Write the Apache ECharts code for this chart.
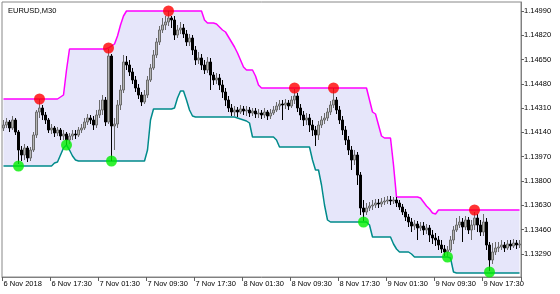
<!DOCTYPE html>
<html><head><meta charset="utf-8">
<script src="https://cdn.jsdelivr.net/npm/echarts@6/dist/echarts.min.js"></script>
<style>html,body{margin:0;padding:0;background:#fff}#c{width:560px;height:294px}</style>
</head><body><div id="c"></div>
<script>
const chartTitle = 'EURUSD,M30';
const startTime = '2018-11-06T09:30';
const tickLabels = ['6 Nov 2018','6 Nov 17:30','7 Nov 01:30','7 Nov 09:30','7 Nov 17:30','8 Nov 01:30','8 Nov 09:30','8 Nov 17:30','9 Nov 01:30','9 Nov 09:30','9 Nov 17:30'];
const priceTicks = ['1.13290','1.13460','1.13630','1.13800','1.13970','1.14140','1.14310','1.14480','1.14650','1.14820','1.14990'];
// [open, close, low, high]
const ohlc = [
[1.14171,1.14192,1.14150,1.14227],[1.14192,1.14213,1.14171,1.14241],[1.14213,1.14171,1.14143,1.14227],[1.14171,1.14227,1.14157,1.14255],
[1.14227,1.14143,1.14122,1.14241],[1.14143,1.14017,1.13919,1.14157],[1.14017,1.13982,1.13940,1.14045],[1.13982,1.14031,1.13947,1.14059],
[1.14031,1.13961,1.13933,1.14045],[1.13961,1.14017,1.13940,1.14038],[1.14017,1.14122,1.14003,1.14143],[1.14122,1.14283,1.14101,1.14297],
[1.14283,1.14311,1.14241,1.14374],[1.14311,1.14262,1.14227,1.14332],[1.14262,1.14227,1.14199,1.14283],[1.14227,1.14157,1.14136,1.14241],
[1.14157,1.14171,1.14129,1.14199],[1.14171,1.14136,1.14108,1.14185],[1.14136,1.14157,1.14115,1.14178],[1.14157,1.14115,1.14087,1.14171],
[1.14115,1.14129,1.14087,1.14157],[1.14129,1.14087,1.14052,1.14143],[1.14087,1.14115,1.14059,1.14136],[1.14115,1.14129,1.14087,1.14157],
[1.14129,1.14122,1.14094,1.14157],[1.14122,1.14157,1.14108,1.14178],[1.14157,1.14171,1.14136,1.14199],[1.14171,1.14213,1.14157,1.14241],
[1.14213,1.14241,1.14192,1.14269],[1.14241,1.14227,1.14199,1.14262],[1.14227,1.14192,1.14157,1.14255],[1.14192,1.14262,1.14171,1.14297],
[1.14262,1.14297,1.14241,1.14367],[1.14297,1.14367,1.14262,1.14402],[1.14367,1.14213,1.14185,1.14388],[1.14213,1.14675,1.14199,1.14724],
[1.14675,1.14185,1.13940,1.14689],[1.14185,1.14199,1.14017,1.14241],[1.14199,1.14332,1.14171,1.14367],[1.14332,1.14437,1.14297,1.14472],
[1.14437,1.14633,1.14416,1.14682],[1.14633,1.14612,1.14577,1.14675],[1.14612,1.14563,1.14535,1.14647],[1.14563,1.14507,1.14479,1.14591],
[1.14507,1.14451,1.14423,1.14535],[1.14451,1.14402,1.14374,1.14479],[1.14402,1.14353,1.14325,1.14423],[1.14353,1.14402,1.14339,1.14437],
[1.14402,1.14507,1.14381,1.14535],[1.14507,1.14591,1.14493,1.14619],[1.14591,1.14682,1.14577,1.14717],[1.14682,1.14773,1.14661,1.14801],
[1.14773,1.14857,1.14752,1.14885],[1.14857,1.14892,1.14836,1.14941],[1.14892,1.14913,1.14857,1.14955],[1.14913,1.14941,1.14885,1.14990],
[1.14941,1.14927,1.14871,1.14955],[1.14927,1.14822,1.14787,1.14955],[1.14822,1.14857,1.14801,1.14892],[1.14857,1.14871,1.14829,1.14913],
[1.14871,1.14829,1.14801,1.14899],[1.14829,1.14773,1.14745,1.14857],[1.14773,1.14801,1.14745,1.14829],[1.14801,1.14717,1.14682,1.14822],
[1.14717,1.14647,1.14612,1.14745],[1.14647,1.14661,1.14619,1.14703],[1.14661,1.14612,1.14577,1.14689],[1.14612,1.14577,1.14549,1.14647],
[1.14577,1.14633,1.14556,1.14668],[1.14633,1.14542,1.14437,1.14661],[1.14542,1.14507,1.14472,1.14563],[1.14507,1.14521,1.14479,1.14556],
[1.14521,1.14472,1.14437,1.14549],[1.14472,1.14423,1.14381,1.14507],[1.14423,1.14367,1.14325,1.14451],[1.14367,1.14311,1.14283,1.14395],
[1.14311,1.14283,1.14255,1.14339],[1.14283,1.14297,1.14255,1.14325],[1.14297,1.14283,1.14248,1.14318],[1.14283,1.14304,1.14269,1.14332],
[1.14304,1.14290,1.14262,1.14325],[1.14290,1.14297,1.14255,1.14325],[1.14297,1.14276,1.14248,1.14318],[1.14276,1.14290,1.14255,1.14311],
[1.14290,1.14269,1.14241,1.14311],[1.14269,1.14276,1.14241,1.14304],[1.14276,1.14262,1.14234,1.14297],[1.14262,1.14283,1.14241,1.14311],
[1.14283,1.14255,1.14227,1.14297],[1.14255,1.14276,1.14234,1.14304],[1.14276,1.14297,1.14262,1.14325],[1.14297,1.14325,1.14283,1.14353],
[1.14325,1.14339,1.14297,1.14367],[1.14339,1.14332,1.14227,1.14367],[1.14332,1.14346,1.14304,1.14374],[1.14346,1.14325,1.14297,1.14367],
[1.14325,1.14367,1.14311,1.14395],[1.14367,1.14395,1.14339,1.14444],[1.14395,1.14311,1.14283,1.14416],[1.14311,1.14262,1.14227,1.14339],
[1.14262,1.14227,1.14185,1.14290],[1.14227,1.14241,1.14192,1.14276],[1.14241,1.14192,1.14143,1.14269],[1.14192,1.14157,1.14115,1.14227],
[1.14157,1.14122,1.14045,1.14185],[1.14122,1.14192,1.14087,1.14220],[1.14192,1.14227,1.14171,1.14255],[1.14227,1.14241,1.14199,1.14276],
[1.14241,1.14283,1.14220,1.14311],[1.14283,1.14332,1.14262,1.14360],[1.14332,1.14367,1.14311,1.14451],[1.14367,1.14297,1.14269,1.14388],
[1.14297,1.14227,1.14199,1.14325],[1.14227,1.14157,1.14122,1.14255],[1.14157,1.14087,1.14052,1.14185],[1.14087,1.14017,1.13982,1.14115],
[1.14017,1.13947,1.13877,1.14045],[1.13947,1.13982,1.13912,1.14017],[1.13982,1.13842,1.13772,1.14003],[1.13842,1.13611,1.13562,1.13863],
[1.13611,1.13583,1.13520,1.13667],[1.13583,1.13611,1.13562,1.13646],[1.13611,1.13625,1.13590,1.13653],[1.13625,1.13632,1.13597,1.13667],
[1.13632,1.13646,1.13611,1.13674],[1.13646,1.13639,1.13611,1.13674],[1.13639,1.13653,1.13618,1.13681],[1.13653,1.13660,1.13632,1.13688],
[1.13660,1.13667,1.13639,1.13695],[1.13667,1.13660,1.13632,1.13695],[1.13660,1.13667,1.13639,1.13688],[1.13667,1.13646,1.13618,1.13688],
[1.13646,1.13618,1.13597,1.13667],[1.13618,1.13583,1.13562,1.13639],[1.13583,1.13548,1.13520,1.13604],[1.13548,1.13513,1.13478,1.13569],
[1.13513,1.13485,1.13443,1.13541],[1.13485,1.13499,1.13457,1.13527],[1.13499,1.13471,1.13387,1.13520],[1.13471,1.13485,1.13450,1.13513],
[1.13485,1.13457,1.13422,1.13513],[1.13457,1.13471,1.13429,1.13499],[1.13471,1.13422,1.13373,1.13492],[1.13422,1.13401,1.13359,1.13457],
[1.13401,1.13387,1.13345,1.13436],[1.13387,1.13352,1.13317,1.13415],[1.13352,1.13324,1.13296,1.13387],[1.13324,1.13303,1.13275,1.13352],
[1.13303,1.13317,1.13268,1.13345],[1.13317,1.13387,1.13303,1.13415],[1.13387,1.13457,1.13359,1.13485],[1.13457,1.13492,1.13443,1.13541],
[1.13492,1.13513,1.13471,1.13555],[1.13513,1.13478,1.13373,1.13541],[1.13478,1.13527,1.13457,1.13555],[1.13527,1.13457,1.13429,1.13548],
[1.13457,1.13492,1.13387,1.13527],[1.13492,1.13541,1.13457,1.13583],[1.13541,1.13492,1.13443,1.13569],[1.13492,1.13443,1.13415,1.13527],
[1.13443,1.13513,1.13415,1.13569],[1.13513,1.13352,1.13317,1.13541],[1.13352,1.13247,1.13170,1.13373],[1.13247,1.13303,1.13219,1.13366],
[1.13303,1.13331,1.13282,1.13373],[1.13331,1.13338,1.13303,1.13373],[1.13338,1.13352,1.13317,1.13387],[1.13352,1.13331,1.13303,1.13373],
[1.13331,1.13359,1.13317,1.13387],[1.13359,1.13345,1.13317,1.13387],[1.13345,1.13366,1.13331,1.13394],[1.13366,1.13352,1.13324,1.13387],
[1.13352,1.13359,1.13331,1.13387]
];
const upperBand = [
1.14374,1.14374,1.14374,1.14374,1.14374,1.14374,1.14374,1.14374,1.14374,1.14374,1.14374,1.14374,1.14374,1.14374,1.14374,1.14374,1.14374,1.14374,1.14374,
1.14388,1.14402,1.14577,
1.14724,1.14724,1.14724,1.14724,1.14724,1.14724,1.14724,1.14724,1.14724,1.14724,1.14724,1.14724,1.14724,
1.14731,1.14745,1.14759,1.14815,1.14892,1.14955,
1.14990,1.14990,1.14990,1.14990,1.14990,1.14990,1.14990,1.14990,1.14990,1.14990,1.14990,1.14990,1.14990,1.14990,1.14990,1.14990,1.14990,1.14990,1.14990,1.14990,1.14990,1.14990,1.14990,1.14990,1.14990,1.14990,
1.14927,1.14906,1.14906,1.14906,
1.14899,1.14878,1.14857,1.14843,1.14808,1.14773,1.14738,1.14696,1.14647,1.14598,
1.14577,1.14577,1.14577,1.14535,1.14472,
1.14451,1.14451,1.14451,1.14451,1.14451,1.14451,1.14451,1.14451,1.14451,1.14451,1.14451,1.14451,1.14451,1.14451,1.14451,1.14451,1.14451,1.14451,
1.14451,1.14451,1.14451,1.14451,1.14451,1.14451,1.14451,1.14451,1.14451,1.14451,1.14451,1.14451,1.14451,1.14451,1.14451,1.14451,1.14451,1.14451,
1.14367,1.14283,1.14269,1.14192,1.14115,1.14101,1.14101,1.14101,1.13912,
1.13688,1.13688,1.13688,1.13688,1.13688,1.13688,1.13688,1.13688,
1.13681,1.13653,1.13625,1.13604,1.13576,1.13569,1.13597,
1.13597,1.13597,1.13597,1.13597,1.13597,1.13597,1.13597,1.13597,1.13597,1.13597,1.13597,1.13597,1.13597,1.13597,
1.13597,1.13597,1.13597,1.13597,1.13597,1.13597,1.13597,1.13597,1.13597,1.13597,1.13597,1.13597,1.13597
];
const lowerBand = [
1.13905,1.13905,1.13905,1.13905,1.13905,1.13905,1.13905,1.13905,1.13905,1.13905,1.13905,1.13905,1.13905,1.13905,1.13905,1.13905,1.13905,
1.13926,1.13933,1.13982,1.14031,1.14052,1.14017,1.13975,1.13947,
1.13940,1.13940,1.13940,1.13940,1.13940,1.13940,1.13940,1.13940,1.13940,1.13940,1.13940,1.13940,
1.13940,1.13940,1.13940,1.13940,1.13940,1.13940,1.13940,1.13940,1.13940,1.13940,1.13940,
1.14017,1.14227,
1.14304,1.14304,1.14304,1.14304,1.14304,1.14304,1.14304,
1.14311,1.14381,1.14430,1.14430,1.14367,1.14297,1.14255,
1.14248,1.14248,1.14248,1.14248,1.14248,1.14248,1.14248,1.14248,1.14248,1.14248,1.14248,1.14248,1.14248,1.14248,
1.14241,1.14234,1.14227,1.14220,1.14206,
1.14108,1.14108,1.14108,1.14108,1.14108,1.14108,1.14108,1.14108,
1.14087,
1.14038,1.14038,1.14038,1.14038,1.14038,1.14038,1.14038,1.14038,1.14038,1.14038,1.14038,
1.13947,1.13877,1.13877,1.13772,1.13632,1.13527,
1.13513,1.13513,1.13513,1.13513,1.13513,1.13513,1.13513,1.13513,1.13513,1.13513,1.13513,1.13513,1.13513,
1.13492,
1.13408,1.13408,1.13408,1.13408,1.13408,1.13408,1.13408,
1.13359,1.13324,1.13303,1.13303,1.13303,1.13303,1.13289,
1.13268,1.13268,1.13268,1.13268,1.13268,1.13268,1.13268,1.13268,1.13268,1.13268,1.13268,1.13268,
1.13261,1.13163,
1.13156,1.13156,1.13156,1.13156,1.13156,1.13156,1.13156,1.13156,1.13156,1.13156,1.13156,
1.13156,1.13156,1.13156,1.13156,1.13156,1.13156,1.13156,1.13156,1.13156,1.13156,1.13156
];
const sellIdx = [12,35,55,97,110,157];
const sellVal = [1.14374,1.14731,1.14990,1.14451,1.14451,1.13597];
const buyIdx = [5,21,36,120,148,162];
const buyVal = [1.13905,1.14052,1.13940,1.13513,1.13268,1.13163];

const t0 = new Date(startTime + ':00Z').getTime();
const categories = ohlc.map((_, i) => new Date(t0 + i * 1800000).toISOString().slice(0, 16));
const bandWidthData = upperBand.map((u, i) => +(u - lowerBand[i]).toFixed(5));
const FONT = 'Liberation Sans';

const chart = echarts.init(document.getElementById('c'), null, {renderer: 'canvas'});
chart.setOption({
  animation: false,
  backgroundColor: '#fff',
  title: {text: chartTitle, left: 3, top: 2, textStyle: {fontSize: 7.5, fontWeight: 'normal', color: '#000', fontFamily: FONT}},
  grid: {left: 2, right: 39, top: 2, bottom: 17, show: true, borderColor: '#888', borderWidth: 1, backgroundColor: 'transparent'},
  xAxis: {
    type: 'category', data: categories, boundaryGap: true,
    axisLine: {show: true, lineStyle: {color: '#808080'}},
    axisTick: {show: true, length: 4, interval: (i) => i % 16 === 0, lineStyle: {color: '#606060'}},
    axisLabel: {interval: (i) => i % 16 === 0, formatter: (v, i) => tickLabels[Math.round(i / 16)] || '', align: 'left', margin: 3, fontSize: 7.5, color: '#000', fontFamily: FONT},
    splitLine: {show: false}
  },
  yAxis: {
    type: 'value', position: 'right', min: 1.13128, max: 1.15053, scale: true,
    axisLine: {show: true, lineStyle: {color: '#808080'}},
    axisTick: {show: true, length: 3, customValues: priceTicks.map(Number), lineStyle: {color: '#606060'}},
    axisLabel: {customValues: priceTicks.map(Number), formatter: (v) => v.toFixed(5), margin: 3, fontSize: 7.5, color: '#000', fontFamily: FONT},
    splitLine: {show: false}
  },
  series: [
    {type: 'line', data: lowerBand, stack: 'band', symbol: 'none', lineStyle: {opacity: 0}, silent: true, z: 1},
    {type: 'line', data: bandWidthData, stack: 'band', symbol: 'none', lineStyle: {opacity: 0}, areaStyle: {color: '#E6E6FA', opacity: 1}, silent: true, z: 1},
    {type: 'line', data: upperBand, symbol: 'none', lineStyle: {color: '#FF00FF', width: 1.5}, z: 2},
    {type: 'line', data: lowerBand, symbol: 'none', lineStyle: {color: '#008B8B', width: 1.5}, z: 2},
    {type: 'candlestick', data: ohlc, barWidth: 2, z: 3,
      itemStyle: {color: '#b4b4b4', color0: '#000000', borderColor: '#6a6a6a', borderColor0: '#000000', borderWidth: 1}},
    {type: 'scatter', data: sellIdx.map((x, k) => [x, sellVal[k]]), symbol: 'circle', symbolSize: 11, itemStyle: {color: '#FF0000'}, z: 5},
    {type: 'scatter', data: buyIdx.map((x, k) => [x, buyVal[k]]), symbol: 'circle', symbolSize: 11, itemStyle: {color: '#00EE00'}, z: 5}
  ]
});
</script>
</body></html>
